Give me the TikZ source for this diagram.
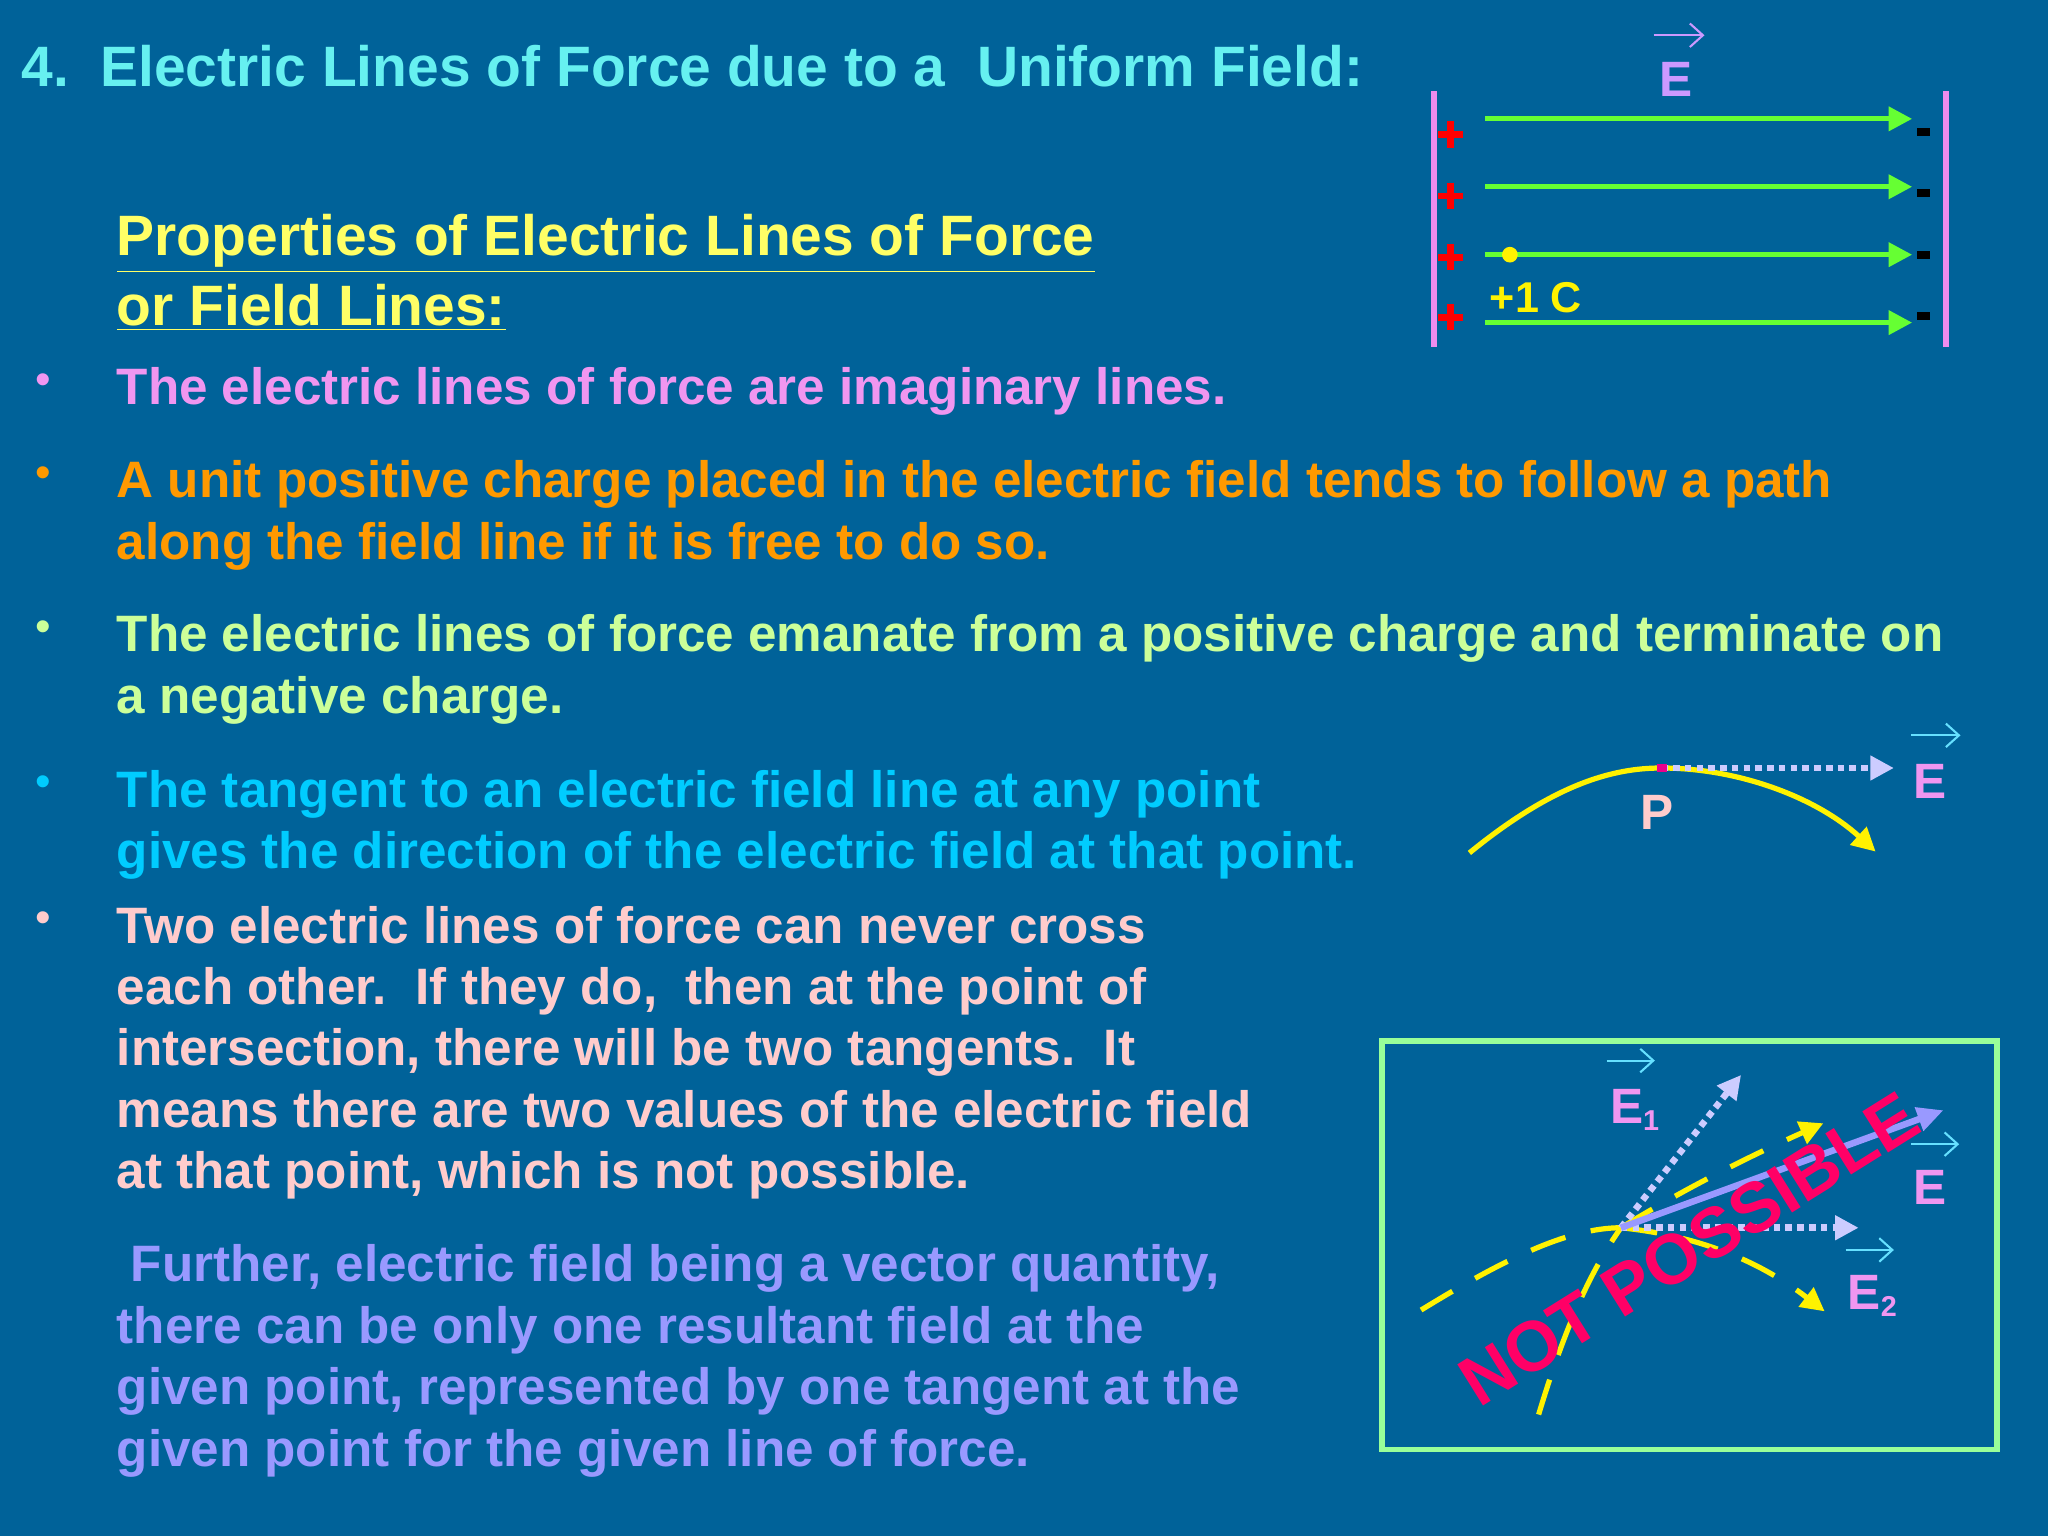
\documentclass[tikz,border=0pt]{standalone}
\usepackage{fontspec}
\setmainfont{Liberation Sans}
\usetikzlibrary{arrows.meta}
\definecolor{bg}{RGB}{0,98,153}
\definecolor{ttl}{RGB}{102,240,240}
\definecolor{yel}{RGB}{255,255,102}
\definecolor{pinkv}{RGB}{240,150,240}
\definecolor{orng}{RGB}{255,153,0}
\definecolor{lgrn}{RGB}{204,255,153}
\definecolor{cyb}{RGB}{0,204,255}
\definecolor{pnk}{RGB}{255,204,204}
\definecolor{lav}{RGB}{153,153,255}
\definecolor{plate}{RGB}{238,140,238}
\definecolor{grn}{RGB}{102,255,51}
\definecolor{vio}{RGB}{204,153,255}
\definecolor{boxg}{RGB}{153,255,153}
\definecolor{np}{RGB}{255,0,102}
\definecolor{ldot}{RGB}{204,204,255}
\tikzset{txt/.style={anchor=base west,inner sep=0pt,font=\bfseries\fontsize{19.6}{22}\selectfont},
 big/.style={anchor=base west,inner sep=0pt,font=\bfseries\fontsize{21.8}{24}\selectfont},
 fl/.style={grn,line width=2pt,-{Triangle[length=9pt,width=9pt]}},
 lbl/.style={inner sep=0pt,font=\bfseries\fontsize{19}{21}\selectfont},
 vec/.style={line width=0.8pt,-{Straight Barb[length=5pt,width=9pt]}}}
\begin{document}
\begin{tikzpicture}[x=0.5pt,y=-0.5pt]
\fill[bg] (0,0) rectangle (1568,1176);
\useasboundingbox (0,0) rectangle (1568,1176);
\node[big,ttl] (title) at (16,66) {4.\ \ Electric Lines of Force due to a\ \ Uniform Field:};
\node[big,yel] (p1) at (89,196) {\underline{Properties of Electric Lines of Force}};
\node[big,yel] (p2) at (89,249) {\underline{or Field Lines:}};
\foreach \y/\c in {296/pinkv,367/orng,485/lgrn,604/cyb,708/pnk}{
  \node[anchor=base west,inner sep=0pt,\c,font=\fontsize{17}{19}\selectfont] at (27,\y+6) {•};}
\node[txt,pinkv] (b1) at (89,310) {The electric lines of force are imaginary lines.};
\node[txt,orng] (b2a) at (89,381) {A unit positive charge placed in the electric field tends to follow a path};
\node[txt,orng] (b2b) at (89,428) {along the field line if it is free to do so.};
\node[txt,lgrn] (b3a) at (89,499) {The electric lines of force emanate from a positive charge and terminate on};
\node[txt,lgrn] (b3b) at (89,546) {a negative charge.};
\node[txt,cyb] (b4a) at (89,618) {The tangent to an electric field line at any point};
\node[txt,cyb] (b4b) at (89,665) {gives the direction of the electric field at that point.};
\foreach \t [count=\i from 0] in {Two electric lines of force can never cross,{each other.\ \ If they do,\ \ then at the point of},{intersection, there will be two tangents.\ \ It},means there are two values of the electric field,{at that point, which is not possible.}}
  \node[txt,pnk] at (89,722+47*\i) {\t};
\foreach \t [count=\i from 0] in {{\ Further, electric field being a vector quantity,},there can be only one resultant field at the,{given point, represented by one tangent at the},given point for the given line of force.}
  \node[txt,lav] at (89,981+47.3*\i) {\t};
% uniform field
\draw[plate,line width=2.5pt] (1098,70) -- (1098,266);
\draw[plate,line width=2.5pt] (1490,70) -- (1490,266);
\foreach \y [count=\i] in {91,143,195,247}{
  \coordinate (s\i) at (1137,\y); \coordinate (e\i) at (1464,\y);
  \draw[fl] (s\i) -- (e\i);}
\foreach \y in {103,150,197,243}{
  \draw[red,line width=2.5pt] (1101,\y) -- (1120,\y) (1110.5,\y-10) -- (1110.5,\y+10);}
\foreach \y in {101,148,195,242}{\fill[black] (1468,\y-3) rectangle (1478,\y+3);}
\fill[yellow] (1156,195) circle (6);
\node[lbl,yellow,font=\bfseries\fontsize{16.5}{18}\selectfont] (q) at (1176,228) {+1 C};
\node[lbl,vio] (E0) at (1283,61) {E};
\draw[vio,vec] (1266,27) -- (1305,27);
% tangent
\coordinate (c0) at (1125,653);
\coordinate (P) at (1272,588);
\coordinate (c1) at (1436,652);
\draw[yellow,line width=2pt] (c0) .. controls (1190,600) and (1235,588) .. (P);
\draw[yellow,line width=2pt,-{Triangle[length=9pt,width=9pt]}] (P) .. controls (1330,588) and (1390,610) .. (c1);
\draw[ldot,line width=2.5pt,dotted,-{Triangle[length=9pt,width=9pt]}] (P) -- (1450,588) coordinate (pe);
\fill[magenta] (1269,585) rectangle (1276,591);
\node[lbl,pnk] (Pl) at (1269,622) {P};
\node[lbl,pinkv] (E4) at (1478,598) {E};
\draw[cyb!60!white,vec] (1463,563) -- (1501,563);
% box
\draw[boxg,line width=2pt] (1058,797) rectangle (1529,1110);
\coordinate (O) at (1241,940);
\draw[yellow,line width=2pt,dash pattern=on 14pt off 10pt] (1088,1003) .. controls (1150,965) and (1200,940) .. (O);
\draw[yellow,line width=2pt,dash pattern=on 14pt off 10pt,-{Triangle[length=9pt,width=9pt]}] (O) .. controls (1290,910) and (1340,885) .. (1396,860);
\draw[yellow,line width=2pt,dash pattern=on 14pt off 10pt] (1178,1083) .. controls (1200,1010) and (1220,970) .. (O);
\draw[yellow,line width=2pt,dash pattern=on 14pt off 10pt,-{Triangle[length=9pt,width=9pt]}] (O) .. controls (1290,945) and (1340,960) .. (1397,1004);
\draw[ldot,line width=2.5pt,dotted,-{Triangle[length=9pt,width=9pt]}] (O) -- (1333,823);
\draw[ldot,line width=2.5pt,dotted,-{Triangle[length=9pt,width=9pt]}] (O) -- (1423,940);
\draw[lav,line width=2.5pt,-{Triangle[length=10pt,width=9pt]}] (O) -- (1488,850);
\node[lbl,pinkv] (E1) at (1252,850) {E\textsubscript{\fontsize{11}{12}\selectfont 1}};
\draw[cyb!60!white,vec] (1230,812) -- (1267,812);
\node[lbl,pinkv] (E) at (1478,909) {E};
\draw[cyb!60!white,vec] (1463,876) -- (1500,876);
\node[lbl,pinkv] (E2) at (1434,992) {E\textsubscript{\fontsize{11}{12}\selectfont 2}};
\draw[cyb!60!white,vec] (1413,957) -- (1450,957);
\node[inner sep=0pt,np,rotate=32,font=\bfseries\fontsize{27}{28}\selectfont] (NP) at (1293,956) {NOT POSSIBLE};
\end{tikzpicture}
\end{document}
